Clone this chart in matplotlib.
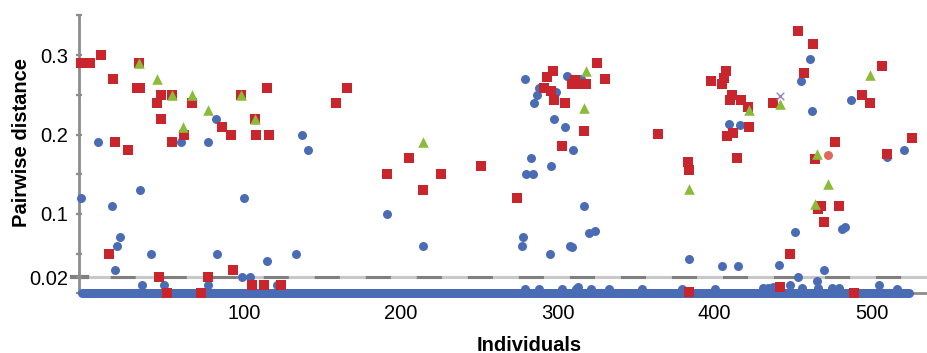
#!/usr/bin/env python3
"""Pairwise distance per individual - scatter with 0.02 threshold"""
import matplotlib.pyplot as plt
import numpy as np
from matplotlib.transforms import blended_transform_factory

plt.rcParams['font.family'] = ['Liberation Sans', 'DejaVu Sans']

# every individual sits on the zero line
individuals = np.arange(-3, 525)
zero_dist = np.zeros(len(individuals))

blue_x = [7, -4, 16, 34, 21, 19, 18, 41, 60, 77, 82, 83, 100, 99, 104, 35, 49, 77,
          115, 133, 121, 137, 141, 191, 214,
          279, 288, 287, 285, 298, 299, 306, 315, 305, 310, 283, 280, 284, 296, 317,
          320, 324, 278, 277, 295, 308, 309,
          384, 405, 415, 409, 416, 441, 451, 461, 457, 455, 462, 487, 510, 521, 481,
          483, 470, 453, 465, 448, 456, 505,
          312, 321, 333, 354, 379, 400, 434, 475, 479, 516, 466, 279, 288, 303, 313,
          431, 437]
blue_y = [0.190, 0.120, 0.110, 0.130, 0.071, 0.060, 0.030, 0.050, 0.190, 0.190, 0.220,
          0.050, 0.120, 0.020, 0.020, 0.010, 0.010, 0.010,
          0.041, 0.050, 0.010, 0.200, 0.180, 0.100, 0.060,
          0.270, 0.259, 0.250, 0.240, 0.220, 0.254, 0.274, 0.270, 0.210, 0.181, 0.171,
          0.150, 0.150, 0.160, 0.110, 0.076, 0.079, 0.071, 0.060, 0.050, 0.060, 0.058,
          0.043, 0.035, 0.035, 0.213, 0.212, 0.036, 0.077, 0.295, 0.277, 0.267, 0.230,
          0.243, 0.172, 0.181, 0.081, 0.083, 0.029, 0.020, 0.016, 0.010, 0.007, 0.010,
          0.005, 0.005, 0.005, 0.005, 0.005, 0.005, 0.007, 0.007, 0.007, 0.005, 0.007,
          0.005, 0.005, 0.006, 0.008, 0.007, 0.008]

red_x = [-4, 2, 9, 33, 17, 32, 34, 47, 45, 54, 67, 47, 62, 86, 92, 54, 18, 26, 14, 46,
         77, 93, 51, 73, 98, 107, 115, 116, 108, 105, 113, 124,
         166, 159, 191, 205, 214, 226, 251, 274,
         291, 293, 297, 296, 298, 305, 303, 311, 309, 312, 318, 325, 330, 317,
         364, 383, 384, 398, 405, 406, 407, 408, 412, 411, 410, 417, 421, 437, 422, 414,
         453, 463, 457, 507, 494, 499, 477, 464, 526, 510, 468, 466, 479, 470, 448, 442,
         489, 384]
red_y = [0.290, 0.290, 0.300, 0.290, 0.270, 0.259, 0.259, 0.250, 0.240, 0.250, 0.240,
         0.220, 0.200, 0.210, 0.200, 0.190, 0.190, 0.180, 0.050, 0.020,
         0.020, 0.030, 0.0, 0.0, 0.250, 0.220, 0.259, 0.200, 0.200, 0.010, 0.010, 0.010,
         0.259, 0.240, 0.150, 0.171, 0.130, 0.150, 0.160, 0.120,
         0.259, 0.272, 0.280, 0.255, 0.243, 0.240, 0.185, 0.269, 0.264, 0.264, 0.264,
         0.290, 0.270, 0.205,
         0.201, 0.165, 0.155, 0.267, 0.264, 0.271, 0.280, 0.198, 0.202, 0.250, 0.243,
         0.243, 0.235, 0.240, 0.210, 0.171,
         0.330, 0.314, 0.277, 0.286, 0.250, 0.240, 0.190, 0.169, 0.196, 0.176, 0.110,
         0.106, 0.110, 0.090, 0.050, 0.008, 0.0, 0.002]

green_x = [33, 45, 54, 67, 77, 61, 98, 107, 214, 318, 317, 384, 422, 442, 499, 465, 472, 464]
green_y = [0.290, 0.270, 0.250, 0.250, 0.231, 0.210, 0.250, 0.220, 0.190, 0.280, 0.233,
           0.132, 0.231, 0.238, 0.275, 0.176, 0.138, 0.113]

purple_x = [442]
purple_y = [0.248]
salmon_x = [472]
salmon_y = [0.174]

threshold = 0.02

fig = plt.figure(figsize=(9.28, 3.53), dpi=100)
ax = fig.add_axes([0.0851, 0.169, 0.9149, 0.7874])

gray = "#8c8c8c"
ax.axhline(threshold, color="#c8c8c8", lw=2.2, zorder=1)
ax.axhline(threshold, color="#7f7f7f", lw=2.2, zorder=1.1,
           linestyle=(6.5, (8.2, 8.5)))
tr = blended_transform_factory(ax.transAxes, ax.transData)
ax.plot([-0.008, 0.009], [threshold, threshold], color="#7f7f7f", lw=3,
        transform=tr, clip_on=False, zorder=1.2)

ax.scatter(individuals, zero_dist, s=42, marker="o", color="#4a6cb4", linewidths=0,
           clip_on=False, zorder=3)
ax.scatter(blue_x, blue_y, s=42, marker="o", color="#4a6cb4", linewidths=0,
           clip_on=False, zorder=3)
ax.scatter(red_x, red_y, s=42, marker="s", color="#c8262c", linewidths=0,
           clip_on=False, zorder=4)
ax.scatter(green_x, green_y, s=58, marker="^", color="#8cbb3a", linewidths=0,
           clip_on=False, zorder=5)
ax.scatter(salmon_x, salmon_y, s=42, marker="o", color="#e0675f", linewidths=0,
           clip_on=False, zorder=5)
ax.scatter(purple_x, purple_y, s=30, marker="x", color="#9a7cc0", linewidths=1,
           clip_on=False, zorder=6)

ax.set_xlim(-5, 536)
ax.set_ylim(0, 0.35)
for s in ["top", "right"]:
    ax.spines[s].set_visible(False)
ax.spines["left"].set_color(gray)
ax.spines["left"].set_linewidth(2)
ax.spines["bottom"].set_color(gray)
ax.spines["bottom"].set_linewidth(2)

ax.set_yticks([0.02, 0.1, 0.2, 0.3])
ax.set_yticklabels(["0.02", "0.1", "0.2", "0.3"])
ax.set_yticks([0, 0.05, 0.15, 0.25, 0.35], minor=True)
ax.tick_params(axis="y", which="both", direction="inout", length=5, width=1.6,
               color=gray, labelsize=14.5, pad=5.5)
ax.set_xticks([100, 200, 300, 400, 500])
ax.tick_params(axis="x", length=0, labelsize=14.5, pad=8)

ax.set_xlabel("Individuals", fontsize=14.5, fontweight="bold")
ax.set_ylabel("Pairwise distance", fontsize=14.5, fontweight="bold")
ax.xaxis.set_label_coords(0.530, -0.152)
ax.yaxis.set_label_coords(-0.0565, 0.543)

plt.savefig("out.png", dpi=100)
